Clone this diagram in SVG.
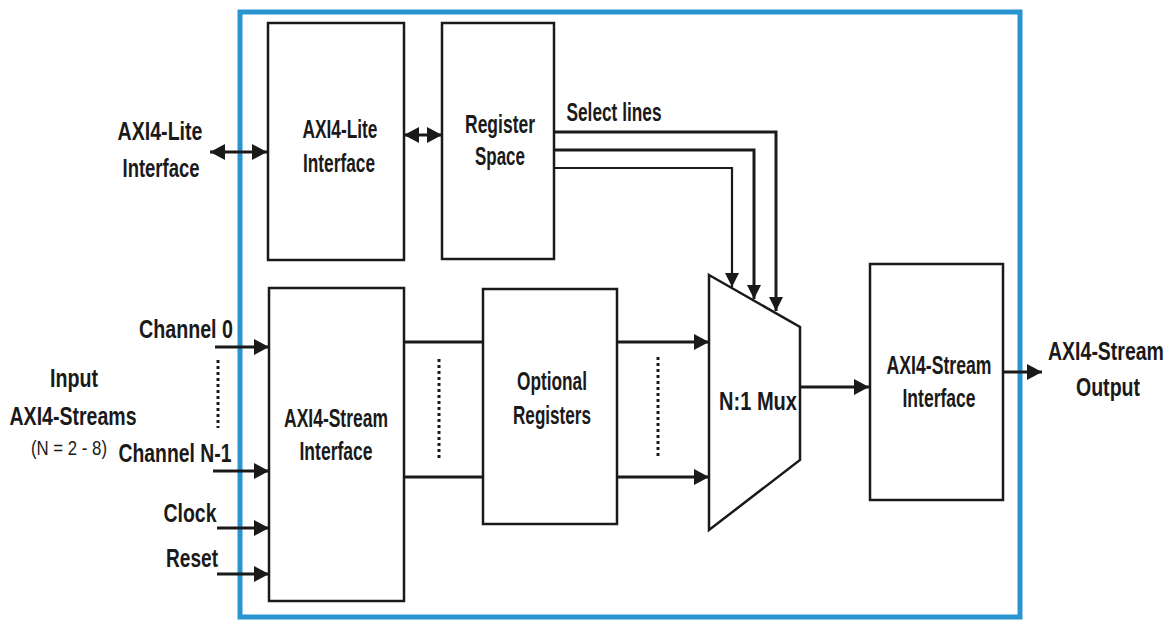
<svg xmlns="http://www.w3.org/2000/svg" width="1174" height="620" viewBox="0 0 1174 620">
<style>
.box{fill:#fff;stroke:#1a1a1a;stroke-width:2.5}
.ln{fill:none;stroke:#1a1a1a;stroke-width:3}
.thin{fill:none;stroke:#1a1a1a;stroke-width:2.2}
.dot{fill:none;stroke:#1a1a1a;stroke-width:3;stroke-dasharray:3 3}
.t{font-family:"Liberation Sans",Arial,sans-serif;font-weight:bold;font-size:25px;fill:#1a1a1a;text-anchor:middle}
.s{font-family:"Liberation Sans",Arial,sans-serif;font-size:21px;fill:#1a1a1a;text-anchor:middle}
</style>
<defs>
<marker id="ah" markerUnits="userSpaceOnUse" markerWidth="16" markerHeight="16" refX="15" refY="8" orient="auto-start-reverse" viewBox="0 0 16 16">
<path d="M0,0 L15,8 L0,16 z" fill="#1a1a1a"/>
</marker>
<marker id="ahs" markerUnits="userSpaceOnUse" markerWidth="14" markerHeight="14" refX="14" refY="7" orient="auto" viewBox="0 0 14 14">
<path d="M0,0 L14,7 L0,14 z" fill="#1a1a1a"/>
</marker>
</defs>
<rect width="1174" height="620" fill="#fff"/>
<g id="frame">
<rect x="240" y="12" width="780" height="605" fill="none" stroke="#2a94d0" stroke-width="5"/>
</g>
<g id="axi4-lite-box">
<rect class="box" x="268" y="23" width="136" height="237"/>
<text class="t" x="340" y="138" textLength="75" lengthAdjust="spacingAndGlyphs">AXI4-Lite</text>
<text class="t" x="339" y="172" textLength="72" lengthAdjust="spacingAndGlyphs">Interface</text>
</g>
<g id="register-space">
<rect class="box" x="442" y="23" width="112" height="236"/>
<text class="t" x="500" y="133" textLength="70" lengthAdjust="spacingAndGlyphs">Register</text>
<text class="t" x="500" y="165" textLength="50" lengthAdjust="spacingAndGlyphs">Space</text>
</g>
<g id="axi4-stream-in">
<rect class="box" x="269" y="288" width="135" height="313"/>
<text class="t" x="336" y="427" textLength="104" lengthAdjust="spacingAndGlyphs">AXI4-Stream</text>
<text class="t" x="336" y="460" textLength="73" lengthAdjust="spacingAndGlyphs">Interface</text>
</g>
<g id="optional-registers">
<rect class="box" x="483" y="289" width="134" height="235"/>
<text class="t" x="552" y="390" textLength="70" lengthAdjust="spacingAndGlyphs">Optional</text>
<text class="t" x="552" y="424" textLength="78" lengthAdjust="spacingAndGlyphs">Registers</text>
</g>
<g id="mux">
<polygon class="box" points="709,275 800,327 800,460 709,530"/>
<text class="t" x="758" y="410" textLength="78" lengthAdjust="spacingAndGlyphs">N:1 Mux</text>
</g>
<g id="axi4-stream-out">
<rect class="box" x="870" y="264" width="133" height="236"/>
<text class="t" x="939" y="374" textLength="105" lengthAdjust="spacingAndGlyphs">AXI4-Stream</text>
<text class="t" x="939" y="407" textLength="73" lengthAdjust="spacingAndGlyphs">Interface</text>
</g>
<g id="labels">
<text class="t" x="160" y="140" textLength="85" lengthAdjust="spacingAndGlyphs">AXI4-Lite</text>
<text class="t" x="161" y="177" textLength="77" lengthAdjust="spacingAndGlyphs">Interface</text>
<text class="t" x="614" y="121" textLength="95" lengthAdjust="spacingAndGlyphs">Select lines</text>
<text class="t" x="186" y="338" textLength="94" lengthAdjust="spacingAndGlyphs">Channel 0</text>
<text class="t" x="175" y="462" textLength="113" lengthAdjust="spacingAndGlyphs">Channel N-1</text>
<text class="t" x="190" y="522" textLength="53" lengthAdjust="spacingAndGlyphs">Clock</text>
<text class="t" x="192" y="567" textLength="52" lengthAdjust="spacingAndGlyphs">Reset</text>
<text class="t" x="74" y="387" textLength="48" lengthAdjust="spacingAndGlyphs">Input</text>
<text class="t" x="73" y="425" textLength="127" lengthAdjust="spacingAndGlyphs">AXI4-Streams</text>
<text class="s" x="69" y="455" textLength="76" lengthAdjust="spacingAndGlyphs">(N = 2 - 8)</text>
<text class="t" transform="translate(1106,360) scale(0.78,1)" x="0" y="0">AXI4-Stream</text>
<text class="t" x="1108" y="396" textLength="64" lengthAdjust="spacingAndGlyphs">Output</text>
</g>
<g id="connectors">
<line class="ln" x1="210" y1="152" x2="267" y2="152" marker-start="url(#ah)" marker-end="url(#ah)"/>
<line class="ln" x1="404" y1="135" x2="442" y2="135" marker-start="url(#ah)" marker-end="url(#ah)"/>
<polyline class="ln" points="554,132 776,132 776,311" marker-end="url(#ahs)"/>
<polyline class="ln" points="554,150 754,150 754,299" marker-end="url(#ahs)"/>
<polyline class="thin" points="554,168 732,168 732,287" marker-end="url(#ahs)"/>
<line class="ln" x1="215" y1="347" x2="269" y2="347" marker-end="url(#ah)"/>
<line class="ln" x1="213" y1="471" x2="269" y2="471" marker-end="url(#ah)"/>
<line class="ln" x1="217" y1="528" x2="269" y2="528" marker-end="url(#ah)"/>
<line class="ln" x1="217" y1="574" x2="269" y2="574" marker-end="url(#ah)"/>
<line class="dot" x1="218" y1="360" x2="218" y2="428"/>
<line class="ln" x1="404" y1="342" x2="483" y2="342"/>
<line class="ln" x1="404" y1="477" x2="483" y2="477"/>
<line class="dot" x1="439" y1="359" x2="439" y2="461"/>
<line class="ln" x1="617" y1="342" x2="709" y2="342" marker-end="url(#ah)"/>
<line class="ln" x1="617" y1="477" x2="709" y2="477" marker-end="url(#ah)"/>
<line class="dot" x1="658" y1="357" x2="658" y2="458"/>
<line class="ln" x1="800" y1="387" x2="869" y2="387" marker-end="url(#ah)"/>
<line class="ln" x1="1003" y1="372" x2="1042" y2="372" marker-end="url(#ah)"/>
</g>
</svg>
